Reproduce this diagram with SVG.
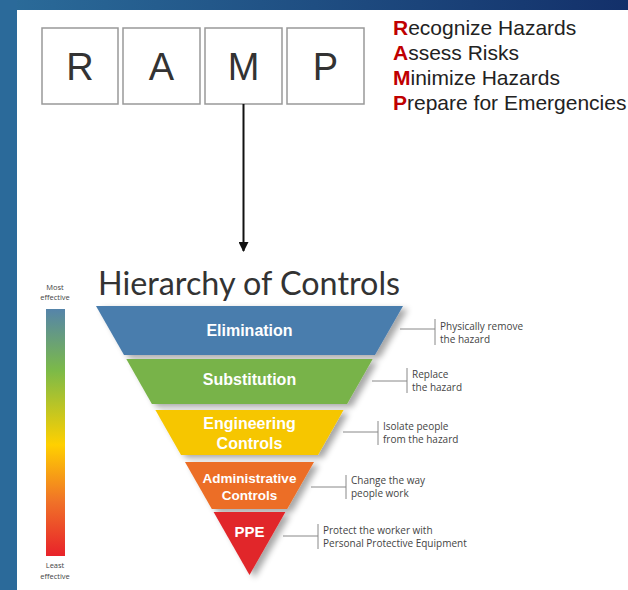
<svg xmlns="http://www.w3.org/2000/svg" width="628" height="590" viewBox="0 0 628 590">
<defs>
<linearGradient id="topband" x1="0" y1="0" x2="1" y2="0">
<stop offset="0" stop-color="#2b6c9a"/>
<stop offset="1" stop-color="#13306a"/>
</linearGradient>
<linearGradient id="bar" x1="0" y1="0" x2="0" y2="1">
<stop offset="0" stop-color="#5584aa"/>
<stop offset="0.25" stop-color="#7cba48"/>
<stop offset="0.55" stop-color="#ffd000"/>
<stop offset="0.78" stop-color="#f07228"/>
<stop offset="1" stop-color="#e8222a"/>
</linearGradient>
<filter id="sh" x="-10%" y="-10%" width="130%" height="130%">
<feGaussianBlur in="SourceAlpha" stdDeviation="3"/>
<feOffset dx="5" dy="3"/>
<feComponentTransfer><feFuncA type="linear" slope="0.35"/></feComponentTransfer>
<feMerge><feMergeNode/><feMergeNode in="SourceGraphic"/></feMerge>
</filter>
<marker id="arr" markerWidth="10" markerHeight="10" refX="9" refY="5" orient="auto" markerUnits="userSpaceOnUse">
<path d="M0,0 L10,5 L0,10 Z" fill="#111"/>
</marker>
</defs>
<style>
.box{fill:#fff;stroke:#999;stroke-width:1.5}
.letter{font-family:"Liberation Sans",Arial,sans-serif;font-size:38px;fill:#333;text-anchor:middle}
.list{font-family:"Liberation Sans",Arial,sans-serif;font-size:21px;fill:#222}
.red{fill:#c00000;font-weight:bold}
.lvl{font-family:"Liberation Sans",Arial,sans-serif;font-weight:bold;fill:#fff;text-anchor:middle}
.note{font-family:"Open Sans","Liberation Sans",sans-serif;font-size:10px;fill:#444}
.call{stroke:#888;stroke-width:1;fill:none}
.tiny{font-family:"Open Sans","Liberation Sans",sans-serif;font-size:7.5px;fill:#444;text-anchor:middle}
</style>
<rect x="0" y="0" width="628" height="590" fill="#fff"/>
<rect x="0" y="0" width="628" height="10" fill="url(#topband)"/>
<rect x="0" y="0" width="17" height="590" fill="#2b6a9a"/>

<g id="ramp-boxes">
<rect class="box" x="42" y="28" width="76" height="76"/>
<rect class="box" x="123" y="28" width="77" height="76"/>
<rect class="box" x="205" y="28" width="77" height="76"/>
<rect class="box" x="287" y="28" width="77" height="76"/>
<text class="letter" x="80" y="80">R</text>
<text class="letter" x="161.5" y="80">A</text>
<text class="letter" x="243.5" y="80">M</text>
<text class="letter" x="325.5" y="80">P</text>
</g>

<g id="ramp-list">
<text class="list" x="393" y="35"><tspan class="red">R</tspan>ecognize Hazards</text>
<text class="list" x="393" y="60"><tspan class="red">A</tspan>ssess Risks</text>
<text class="list" x="393" y="85"><tspan class="red">M</tspan>inimize Hazards</text>
<text class="list" x="393" y="110"><tspan class="red">P</tspan>repare for Emergencies</text>
</g>

<g id="connectors">
<line x1="243.5" y1="104" x2="243.5" y2="251" stroke="#111" stroke-width="2" marker-end="url(#arr)"/>
</g>

<g id="title">
<text x="98" y="295" font-family="Lato,'Open Sans',sans-serif" font-size="32" fill="#333" textLength="302" lengthAdjust="spacingAndGlyphs">Hierarchy of Controls</text>
</g>

<g id="scale">
<text class="tiny" x="55" y="290">Most</text>
<text class="tiny" x="55" y="300">effective</text>
<rect x="46" y="309" width="19" height="247" fill="url(#bar)"/>
<text class="tiny" x="55" y="568">Least</text>
<text class="tiny" x="55" y="579">effective</text>
</g>

<g id="pyramid" filter="url(#sh)">
<polygon id="elimination" points="96,306 403,306 375,355 124,355" fill="#4a7dad"/>
<polygon id="substitution" points="126.3,359 372.7,359 347.1,404 151.9,404" fill="#78b348"/>
<polygon id="engineering" points="155.4,410 343.6,410 318,455 181,455" fill="#f6c600"/>
<polygon id="administrative" points="185,462 314,462 287.2,509 211.8,509" fill="#ec6e25"/>
<polygon id="ppe" points="213.6,512 285.4,512 249.5,575" fill="#e1262b"/>
</g>

<g id="labels">
<text class="lvl" x="249.5" y="336" font-size="16">Elimination</text>
<text class="lvl" x="249.5" y="385" font-size="16">Substitution</text>
<text class="lvl" x="249.5" y="429" font-size="16">Engineering</text>
<text class="lvl" x="249.5" y="449" font-size="16">Controls</text>
<text class="lvl" x="249.5" y="483" font-size="13.5">Administrative</text>
<text class="lvl" x="249.5" y="500" font-size="13.5">Controls</text>
<text class="lvl" x="249.5" y="537" font-size="15">PPE</text>
</g>

<g id="callouts">
<path class="call" d="M400,329 H435 M435,319 V345"/>
<text class="note" x="440" y="330">Physically remove</text>
<text class="note" x="440" y="343">the hazard</text>
<path class="call" d="M372,381 H407 M407,368 V393"/>
<text class="note" x="412" y="378">Replace</text>
<text class="note" x="412" y="391">the hazard</text>
<path class="call" d="M343,432 H378 M378,421 V445"/>
<text class="note" x="383" y="430">Isolate people</text>
<text class="note" x="383" y="443">from the hazard</text>
<path class="call" d="M311,487 H346 M346,475 V499"/>
<text class="note" x="351" y="484">Change the way</text>
<text class="note" x="351" y="497">people work</text>
<path class="call" d="M283,536 H318 M318,524 V549"/>
<text class="note" x="323" y="534">Protect the worker with</text>
<text class="note" x="323" y="547">Personal Protective Equipment</text>
</g>
</svg>
